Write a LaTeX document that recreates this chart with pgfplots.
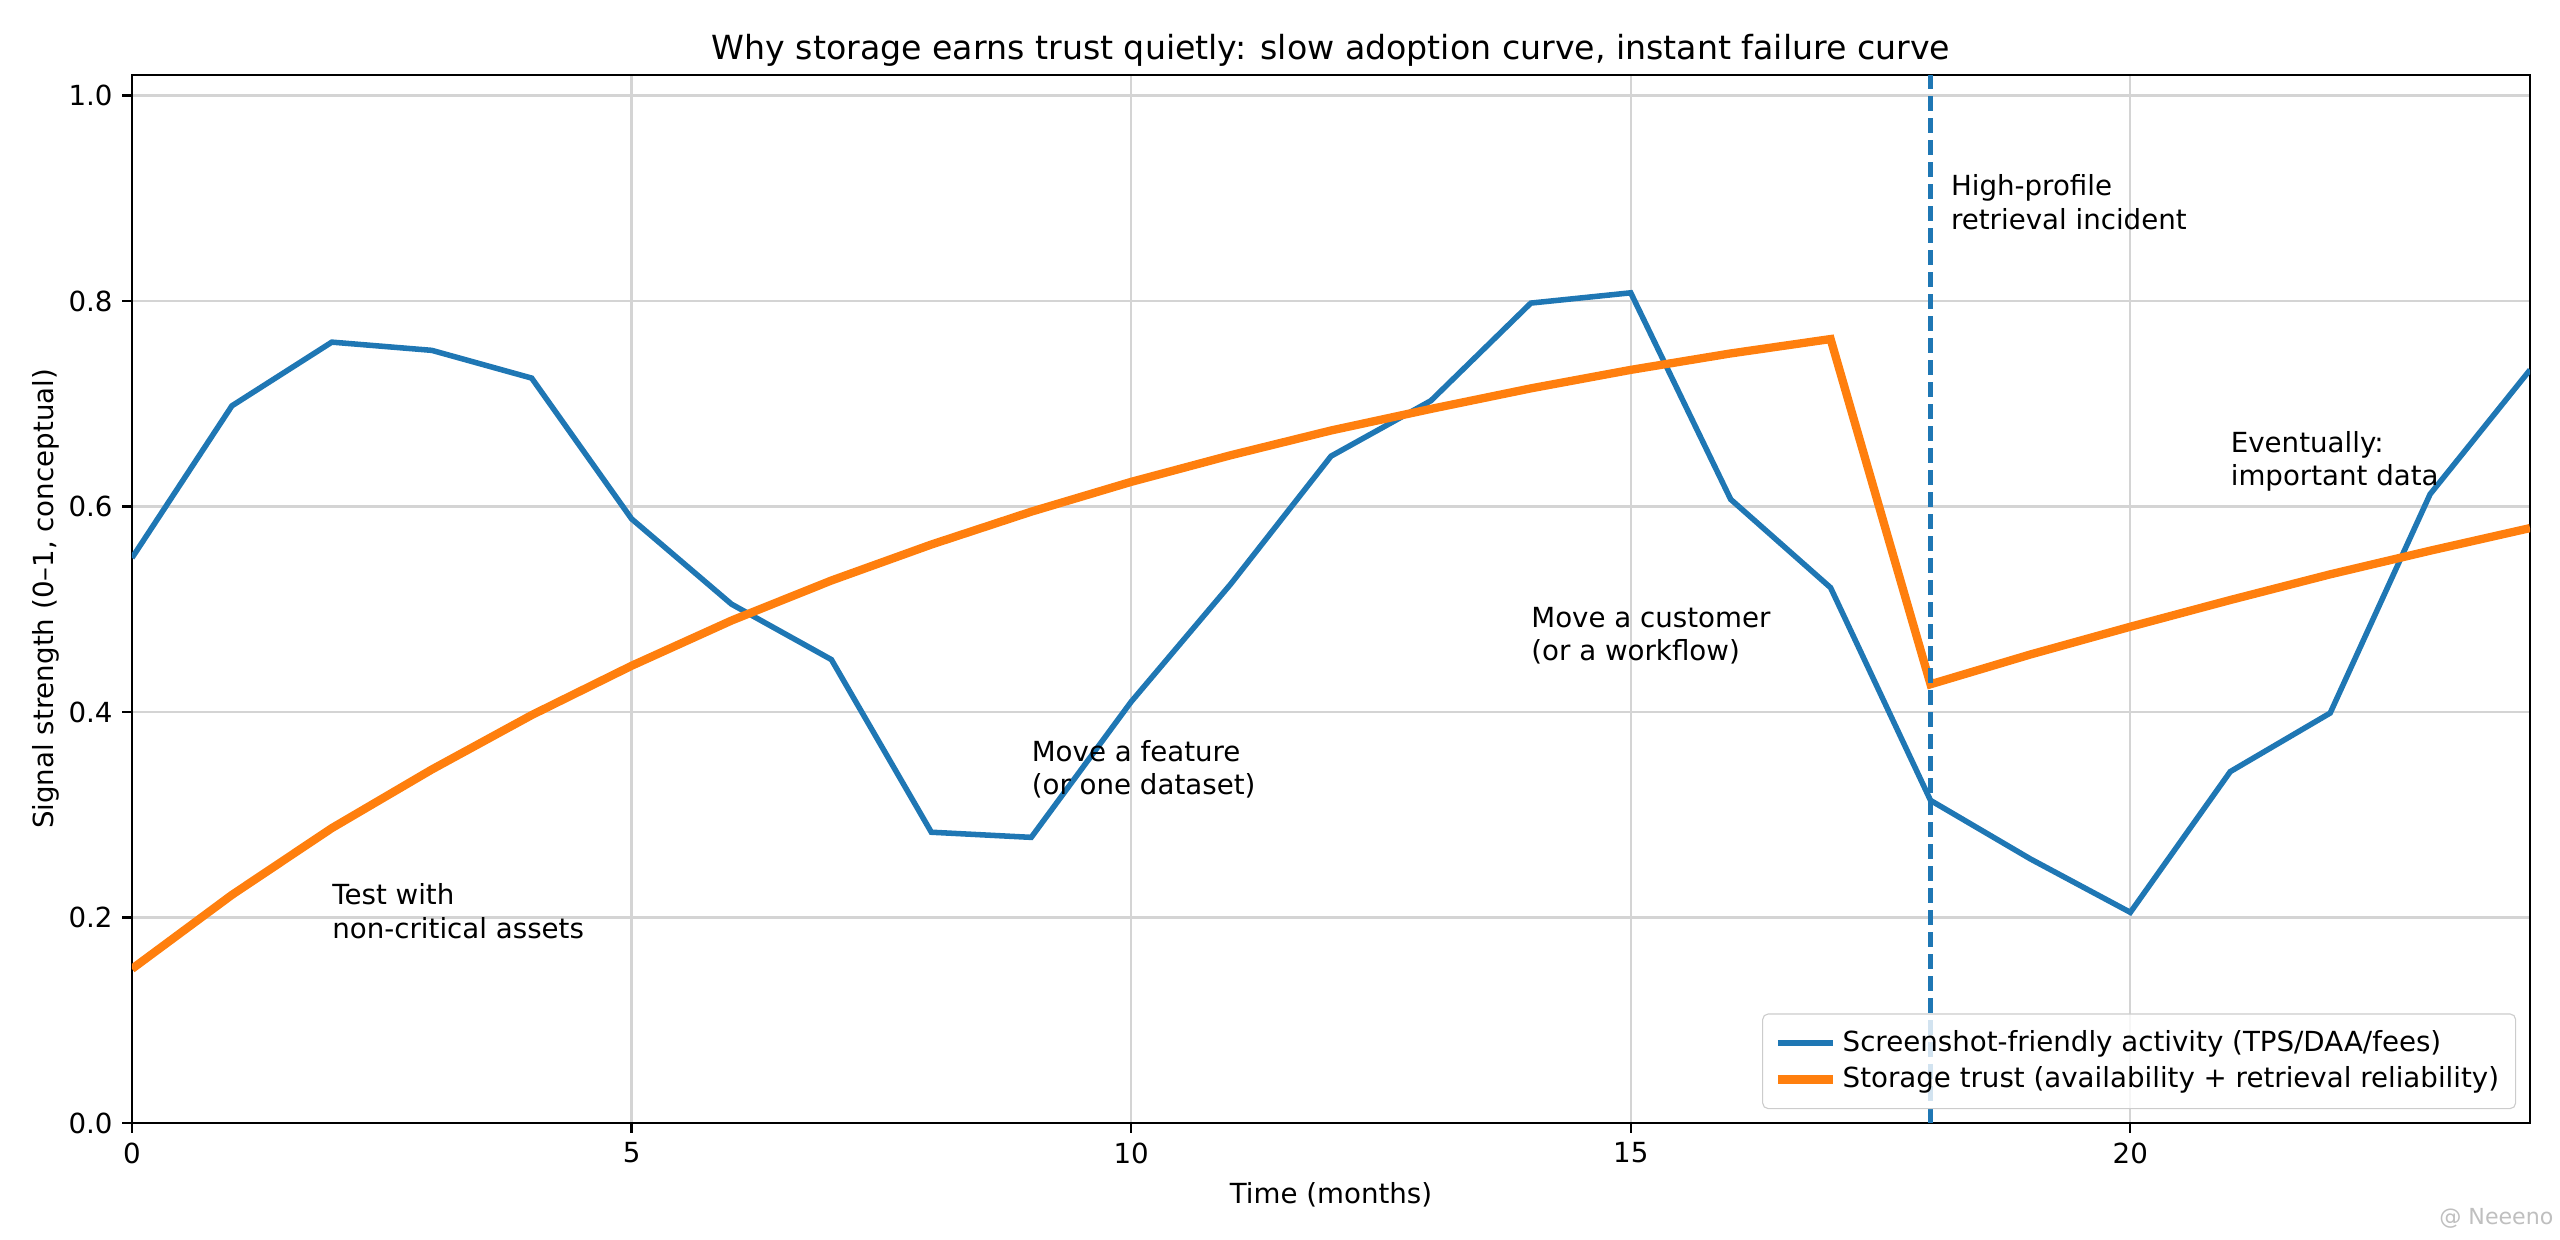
\documentclass[border=0pt]{standalone}
\usepackage{fontspec}
\setmainfont{DejaVu Sans}
\usepackage{pgfplots}
\usepackage{pgfplotstable}
\pgfplotsset{compat=1.18}

\definecolor{tabblue}{HTML}{1F77B4}
\definecolor{taborange}{HTML}{FF7F0E}

% month, screenshot-friendly activity, storage trust
\pgfplotstableread{
t  activity trust
0  0.550 0.150
1  0.698 0.222
2  0.760 0.287
3  0.752 0.344
4  0.725 0.397
5  0.588 0.445
6  0.505 0.489
7  0.451 0.528
8  0.283 0.563
9  0.278 0.595
10 0.410 0.624
11 0.525 0.650
12 0.649 0.674
13 0.703 0.695
14 0.798 0.715
15 0.808 0.733
16 0.607 0.749
17 0.521 0.763
18 0.314 0.427
19 0.257 0.456
20 0.205 0.483
21 0.342 0.509
22 0.399 0.534
23 0.612 0.557
24 0.733 0.579
}\signals

\begin{document}
\begin{tikzpicture}
\begin{axis}[
  scale only axis,
  width=11.99in, height=5.24in,
  xmin=0, xmax=24, ymin=0, ymax=1.02,
  xtick={0,5,10,15,20},
  ytick={0,0.2,0.4,0.6,0.8,1.0},
  /pgf/number format/assume math mode=true,
  yticklabel style={/pgf/number format/.cd, fixed, fixed zerofill, precision=1},
  tick align=outside, tick pos=left,
  major tick length=3.5pt,
  tick style={black, line width=0.8pt},
  axis line style={line width=0.8pt},
  grid=major,
  major grid style={line width=0.8pt, color=black!17},
  title={Why storage earns trust quietly: slow adoption curve, instant failure curve},
  title style={font=\large, at={(0.5,1)}, anchor=base, yshift=-0.5pt},
  xlabel={Time (months)},
  ylabel={Signal strength (0–1, conceptual)},
  ylabel style={yshift=-3.5pt},
  legend style={at={(1,0)}, anchor=south east, xshift=-5pt, yshift=5pt,
    draw=black!20, rounded corners=2pt, fill=white, fill opacity=0.8,
    text opacity=1, inner xsep=4pt, inner ysep=4pt},
  legend cell align=left,
  legend image code/.code={\draw[#1] (0cm,0cm) -- (0.7cm,0cm);},
]
\addplot[tabblue, line width=2pt] table[x=t, y=activity] {\signals};
\addlegendentry{Screenshot-friendly activity (TPS/DAA/fees)}
\addplot[taborange, line width=3pt] table[x=t, y=trust] {\signals};
\addlegendentry{Storage trust (availability + retrieval reliability)}
\addplot[forget plot, tabblue, line width=1.5pt, dash pattern=on 5.55pt off 2.4pt]
  coordinates {(18,0) (18,1.02)};

\node[anchor=base west, inner sep=0pt] at (axis cs:2,0.18)
  {\begin{tabular}[b]{@{}l@{}}Test with\\non-critical assets\end{tabular}};
\node[anchor=base west, inner sep=0pt] at (axis cs:9,0.32)
  {\begin{tabular}[b]{@{}l@{}}Move a feature\\(or one dataset)\end{tabular}};
\node[anchor=base west, inner sep=0pt] at (axis cs:14,0.45)
  {\begin{tabular}[b]{@{}l@{}}Move a customer\\(or a workflow)\end{tabular}};
\node[anchor=base west, inner sep=0pt] at (axis cs:18.2,0.87)
  {\begin{tabular}[b]{@{}l@{}}High-profile\\retrieval incident\end{tabular}};
\node[anchor=base west, inner sep=0pt] at (axis cs:21,0.62)
  {\begin{tabular}[b]{@{}l@{}}Eventually:\\important data\end{tabular}};
\end{axis}
\node[anchor=east, inner sep=0pt, text=black!25, font=\footnotesize] at ([shift={(0.12in,-0.475in)}]current axis.south east) {@ Neeeno};
\pgfresetboundingbox
\path[use as bounding box] ([shift={(-0.66in,-0.585in)}]current axis.south west)
  rectangle ([shift={(0.15in,0.375in)}]current axis.north east);
\end{tikzpicture}
\end{document}
